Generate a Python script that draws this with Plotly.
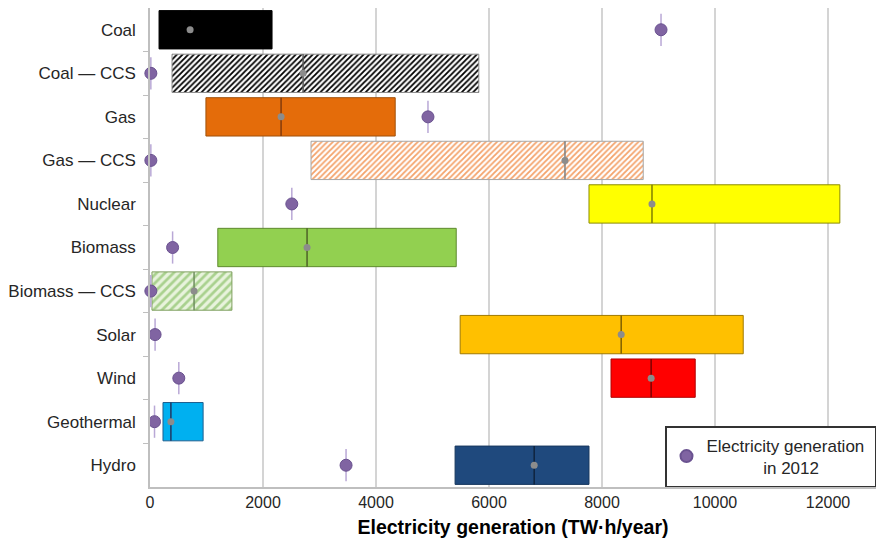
import plotly.graph_objects as go

categories = ["Coal", "Coal — CCS", "Gas", "Gas — CCS", "Nuclear", "Biomass",
              "Biomass — CCS", "Solar", "Wind", "Geothermal", "Hydro"]
range_min = [160, 390, 990, 2850, 7770, 1200, 35, 5490, 8160, 230, 5400]
range_max = [2160, 5820, 4340, 8730, 12210, 5420, 1450, 10500, 9650, 940, 7770]
median = [710, 2710, 2320, 7345, 8885, 2780, 780, 8340, 8870, 370, 6800]
gen_2012 = [9045, 15, 4920, 15, 2510, 400, 15, 90, 510, 80, 3470]
x_ticks = [0, 2000, 4000, 6000, 8000, 10000, 12000]

fill_colors = ["#000000", "#000000", "#E46C0A", "#F4A36B", "#FFFF00", "#92D050",
               "#A9D18E", "#FFC000", "#FF0000", "#00B0F0", "#1F497D"]
bg_colors = [None, "#FFFFFF", None, "#FFFFFF", None, None,
             "#E8F3DC", None, None, None, None]
patterns = ["", "/", "", "/", "", "", "/", "", "", "", ""]
pattern_sizes = [6, 4, 6, 4, 6, 6, 6, 6, 6, 6, 6]
border_colors = ["#000000", "#8C8C8C", "#A0500A", "#A6A6A6", "#8C8C00", "#5E8A2E",
                 "#7F9F5F", "#A07A00", "#B00000", "#1F5F8F", "#17375E"]
median_colors = ["#000000", "#595959", "#843C0C", "#7F7F7F", "#7F7F00", "#4F6228",
                 "#6F8F5F", "#7F6000", "#7F0000", "#1F3864", "#0F243E"]

ypos = list(range(len(categories)))
bar_w = 0.88

fig = go.Figure()

for i, c in enumerate(categories):
    pat = dict(shape=patterns[i])
    if patterns[i]:
        pat = dict(shape=patterns[i], fgcolor=fill_colors[i], bgcolor=bg_colors[i],
                   size=pattern_sizes[i], solidity=0.45, fillmode="replace")
    fig.add_trace(go.Bar(
        y=[ypos[i]], x=[range_max[i] - range_min[i]], base=[range_min[i]],
        orientation="h", width=bar_w,
        marker=dict(color=fill_colors[i] if not patterns[i] else bg_colors[i],
                    line=dict(color=border_colors[i], width=1), pattern=pat),
        showlegend=False, hoverinfo="skip"))

# median lines
for i in range(len(categories)):
    fig.add_trace(go.Scatter(
        x=[median[i], median[i]], y=[ypos[i] - bar_w / 2, ypos[i] + bar_w / 2],
        mode="lines", line=dict(color=median_colors[i], width=1.5),
        showlegend=False, hoverinfo="skip"))

# median dots
fig.add_trace(go.Scatter(
    x=median, y=ypos, mode="markers",
    marker=dict(color="#8C8C8C", size=7), showlegend=False, hoverinfo="skip"))

# 2012 generation
fig.add_trace(go.Scatter(
    x=gen_2012, y=ypos, mode="markers", cliponaxis=False,
    marker=dict(color="#8064A2", size=12, line=dict(color="#6A5290", width=1)),
    error_y=dict(type="constant", value=0.37, color="#B9A8D6", thickness=1.5, width=0),
    name="Electricity generation&nbsp;<br>" + "&nbsp;" * 12 + "in 2012",
    showlegend=True))

# page body has an 8px margin, so the figure is sized/offset to compensate
fig.update_layout(
    width=868, height=530,
    margin=dict(l=142, r=0, t=0, b=51),
    plot_bgcolor="white", paper_bgcolor="white",
    font=dict(family="Liberation Sans, Arial, sans-serif", size=17, color="#262626"),
    barmode="overlay",
    showlegend=True,
    legend=dict(x=1, y=0, xanchor="right", yanchor="bottom",
                bordercolor="#333333", borderwidth=1.5, bgcolor="white",
                font=dict(size=17, color="#262626"),
                itemsizing="constant", tracegroupgap=0),
    xaxis=dict(range=[0, 12850], tickvals=x_ticks, ticktext=[str(v) for v in x_ticks],
               showgrid=True, gridcolor="#D4D4D4", gridwidth=1.5, automargin=False,
               zeroline=False, showline=True, linecolor="#BFBFBF", linewidth=1.5,
               ticks="", tickfont=dict(size=16, color="#262626"),
               title=dict(text="<b>Electricity generation (TW·h/year)</b>",
                          font=dict(size=19.5, color="#000000"), standoff=14)),
    yaxis=dict(range=[len(categories) - 0.5, -0.5], tickvals=ypos, ticktext=categories,
               showgrid=False, zeroline=False, showline=True, linecolor="#BFBFBF",
               linewidth=1.5, ticks="", ticklabelstandoff=9, automargin=False,
               tickfont=dict(size=17, color="#262626"),
               minor=dict(tickvals=[p + 0.5 for p in ypos[:-1]], ticks="outside",
                          ticklen=5, tickcolor="#BFBFBF", showgrid=False)),
)

fig.write_html("out.html")
